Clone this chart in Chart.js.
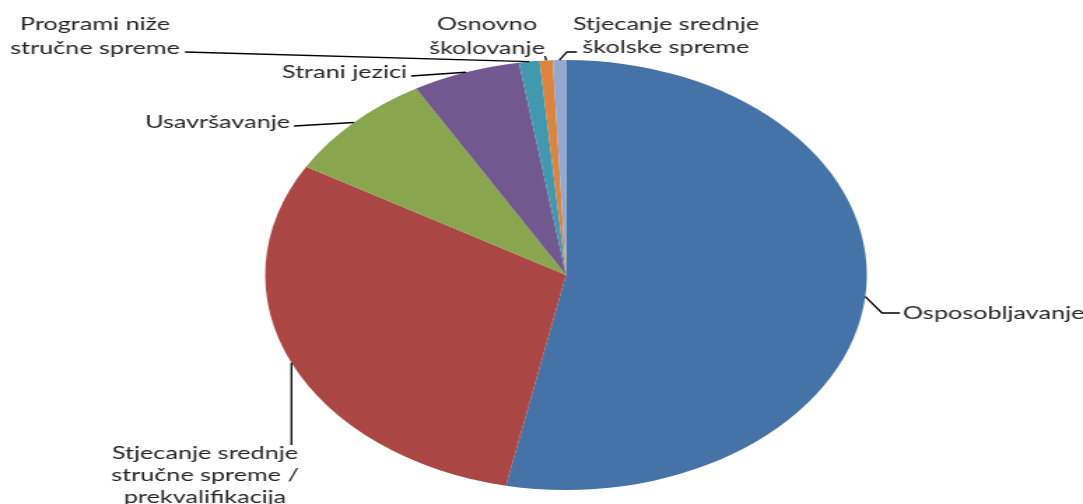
<!DOCTYPE html>
<html>
<head>
<meta charset="utf-8">
<script src="https://cdn.jsdelivr.net/npm/chart.js@4"></script>
<style>
  html, body { margin: 0; padding: 0; background: #fff; overflow: hidden; }
  #wrap { width: 774px; height: 504px; transform-origin: 0 0; }
</style>
</head>
<body>
<div id="wrap"><canvas id="pie" width="774" height="504"></canvas></div>
<script>
// --- Data ---
const categories = [
    'Osposobljavanje',
    'Stjecanje srednje stručne spreme / prekvalifikacija',
    'Usavršavanje',
    'Strani jezici',
    'Programi niže stručne spreme',
    'Osnovno školovanje',
    'Stjecanje srednje školske spreme'
];
const shares = [53.2, 30.2, 8.3, 5.8, 1.1, 0.7, 0.7];
const labelLines = [
    ['Osposobljavanje'],
    ['Stjecanje srednje', 'stručne spreme /', 'prekvalifikacija'],
    ['Usavršavanje'],
    ['Strani jezici'],
    ['Programi niže', 'stručne spreme'],
    ['Osnovno', 'školovanje'],
    ['Stjecanje srednje', 'školske spreme']
];
const colors = ['#4572A7', '#AA4643', '#89A54E', '#71588F', '#4198AF', '#DB843D', '#93A9CF'];

// the whole picture is stretched sideways
const SX = 1083 / 774;
document.getElementById('wrap').style.transform = `scaleX(${SX})`;

// label placement in page pixels (text centre y per line, leader elbows)
const labelLayout = [
    { x: 903, y: [313], align: 'left', path: [[882, 313], [900, 313]] },
    { x: 205, y: [453, 475, 497], align: 'center', path: [[null, 445]] },
    { x: 290, y: [122], align: 'right', path: [[294, 126]] },
    { x: 407, y: [72], align: 'right', path: [[411, 76]] },
    { x: 95, y: [24, 48], align: 'center', path: [[185, 52]] },
    { x: 487, y: [24, 48], align: 'center', path: [[545, 56]] },
    { x: 666, y: [24, 47], align: 'center', path: [[567, 52], [577, 52]] }
];

const labelPlugin = {
    id: 'pieLabels',
    afterDatasetsDraw(chart) {
        const ctx = chart.ctx;
        const arcs = chart.getDatasetMeta(0).data;
        ctx.save();
        arcs.forEach((arc, i) => {
            const mid = (arc.startAngle + arc.endAngle) / 2;
            const ax = arc.x + Math.cos(mid) * arc.outerRadius;
            const ay = arc.y + Math.sin(mid) * arc.outerRadius;
            const lay = labelLayout[i];

            // leader line
            ctx.strokeStyle = '#000';
            ctx.lineWidth = 1.3;
            ctx.beginPath();
            ctx.moveTo(ax, ay);
            lay.path.forEach(p => {
                const px = p[0] === null ? ax : p[0] / SX;
                ctx.lineTo(px, p[1]);
            });
            ctx.stroke();

            // text
            ctx.fillStyle = '#262626';
            ctx.font = '18px Lato';
            ctx.textAlign = lay.align;
            ctx.textBaseline = 'middle';
            labelLines[i].forEach((t, k) => {
                ctx.fillText(t, lay.x / SX, lay.y[k]);
            });
        });
        ctx.restore();
    }
};

new Chart(document.getElementById('pie'), {
    type: 'pie',
    data: {
        labels: categories,
        datasets: [{
            data: shares,
            backgroundColor: colors,
            borderWidth: 0
        }]
    },
    options: {
        responsive: false,
        animation: false,
        layout: { padding: { left: 189.5, right: 154.5, top: 60, bottom: 14 } },
        plugins: {
            legend: { display: false },
            tooltip: { enabled: false }
        }
    },
    plugins: [labelPlugin]
});
</script>
</body>
</html>
